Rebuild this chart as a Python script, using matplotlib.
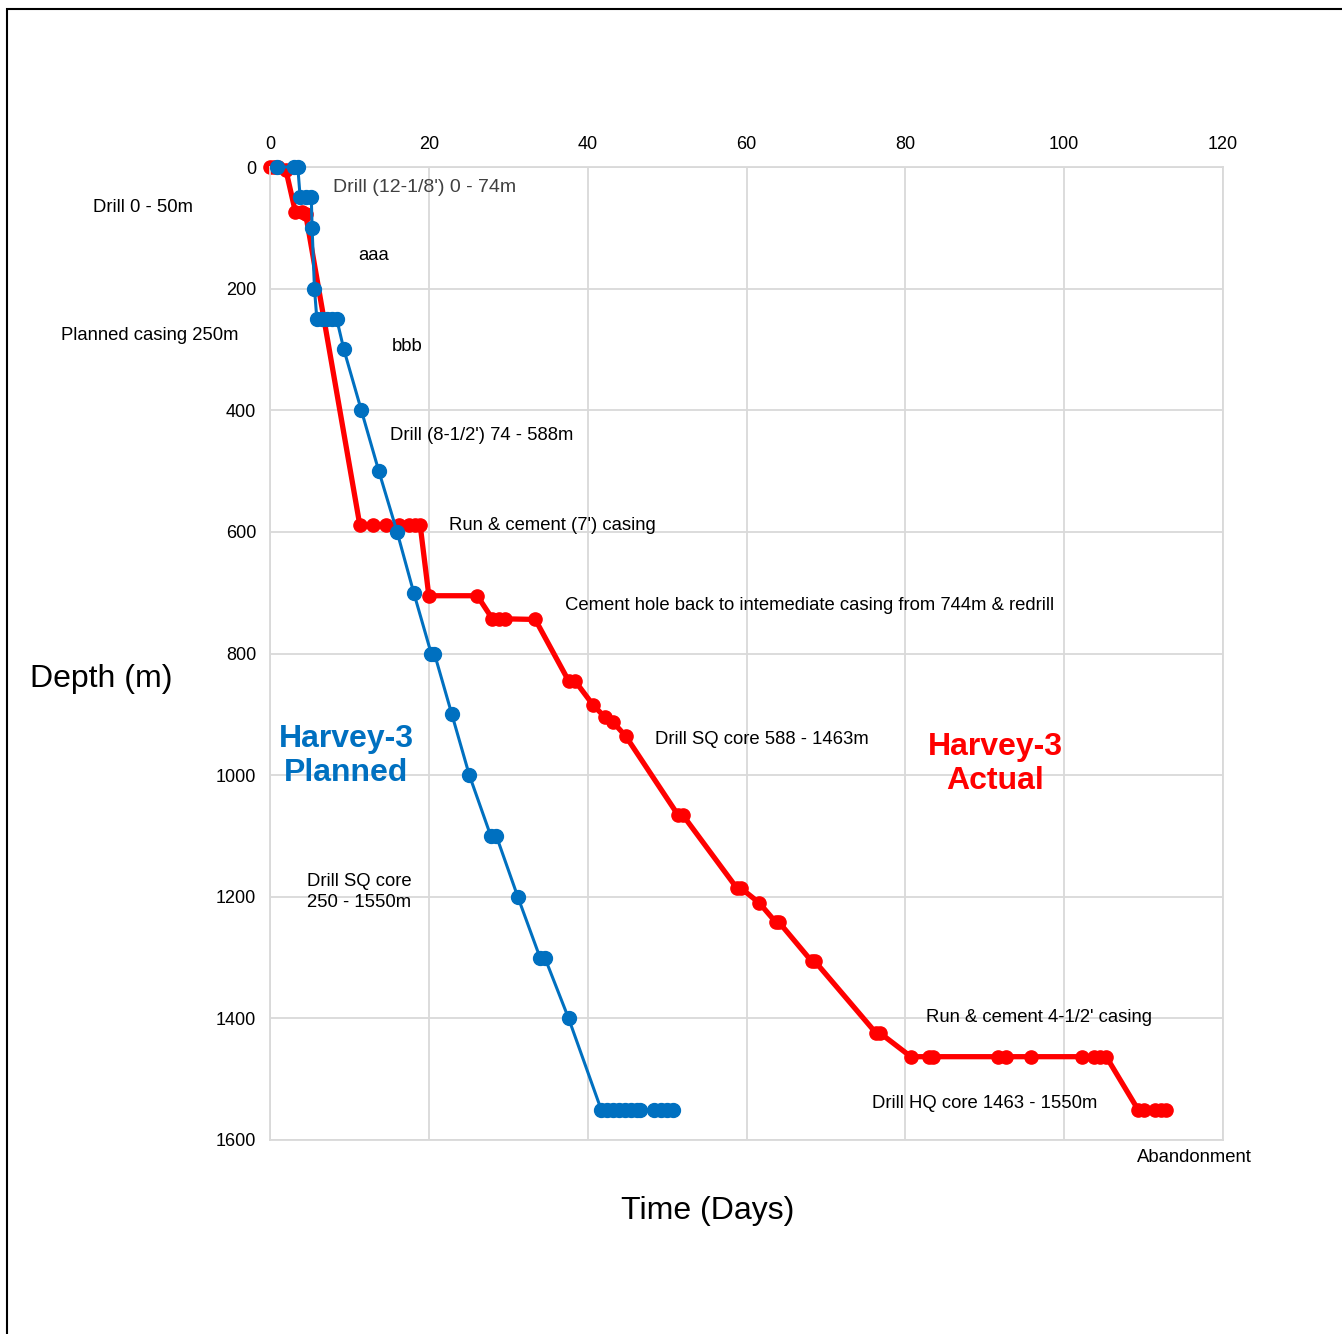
import matplotlib.pyplot as plt
from matplotlib.patches import Rectangle

plt.rcParams['font.family'] = ['Liberation Sans', 'DejaVu Sans']

# planned well (days, depth m)
plan_days = [0.9, 3.0, 3.5, 3.8, 4.5, 5.2, 5.3, 5.6, 5.9, 6.5, 7.2, 7.8, 8.4, 9.3,
             11.5, 13.7, 16.0, 18.1, 20.3, 20.7, 22.9, 25.1, 27.8, 28.5, 31.2,
             34.0, 34.6, 37.6, 41.7, 42.4, 43.2, 43.9, 44.7, 45.4, 46.2, 46.6,
             48.4, 49.2, 50.0, 50.8]
plan_depth = [0, 0, 0, 50, 50, 50, 100, 200, 250, 250, 250, 250, 250, 300,
              400, 500, 600, 700, 800, 800, 900, 1000, 1100, 1100, 1200,
              1300, 1300, 1400, 1550, 1550, 1550, 1550, 1550, 1550, 1550, 1550,
              1550, 1550, 1550, 1550]

# actual well (days, depth m)
act_days = [0.0, 0.5, 1.0, 2.0, 3.2, 4.0, 4.5, 11.3, 13.0, 14.6, 16.3, 17.5, 18.2,
            18.9, 20.0, 26.1, 28.0, 28.8, 29.6, 33.4, 37.6, 38.4, 40.7, 42.2,
            43.2, 44.8, 51.4, 52.0, 58.8, 59.3, 61.6, 63.7, 64.1, 68.2, 68.6,
            76.3, 76.8, 80.7, 83.0, 83.5, 91.7, 92.7, 95.8, 102.2, 103.8, 104.5,
            105.3, 109.3, 110.0, 111.5, 112.2, 112.8]
act_depth = [0, 0, 0, 5, 74, 74, 78, 588, 588, 588, 588, 588, 588,
             588, 705, 705, 743, 743, 743, 744, 845, 845, 885, 905,
             913, 936, 1066, 1066, 1186, 1186, 1210, 1242, 1242, 1306, 1306,
             1424, 1424, 1463, 1463, 1463, 1463, 1463, 1463, 1463, 1463, 1463,
             1463, 1550, 1550, 1550, 1550, 1550]

x_ticks = [0, 20, 40, 60, 80, 100, 120]
y_ticks = [0, 200, 400, 600, 800, 1000, 1200, 1400, 1600]

W, H = 1342, 1334
fig = plt.figure(figsize=(W / 100, H / 100), dpi=100)
ax = fig.add_axes([270 / W, 1 - 1140 / H, 953 / W, 973 / H])

blue = '#0070C0'
red = '#FF0000'
ax.plot(act_days, act_depth, '-o', color=red, lw=3.8, ms=9.5, zorder=2, clip_on=False)
ax.plot(plan_days, plan_depth, '-o', color=blue, lw=2.2, ms=10, zorder=3, clip_on=False)

ax.set_xlim(0, 120)
ax.set_ylim(1600, 0)
ax.set_xticks(x_ticks)
ax.set_yticks(y_ticks)
ax.xaxis.tick_top()
ax.tick_params(length=0, labelsize=13, pad=10)
ax.grid(True, color='#d9d9d9', lw=1.3)
for s in ax.spines.values():
    s.set_color('#d9d9d9')
    s.set_linewidth(1.3)
ax.set_axisbelow(True)


def ftext(px, py, s, **kw):
    fig.text(px / W, 1 - (py + 2) / H, s, va='center', **kw)


fs = 13.3
ftext(143, 205, 'Drill 0 - 50m', ha='center', fontsize=fs)
ftext(333, 185, "Drill (12-1/8') 0 - 74m", ha='left', fontsize=14, color='#404040')
ftext(374, 253, 'aaa', ha='center', fontsize=fs)
ftext(150, 333, 'Planned casing 250m', ha='center', fontsize=fs)
ftext(407, 345, 'bbb', ha='center', fontsize=fs)
ftext(390, 434, "Drill (8-1/2') 74 - 588m", ha='left', fontsize=fs)
ftext(449, 523, "Run & cement (7') casing", ha='left', fontsize=fs)
ftext(565, 603, 'Cement hole back to intemediate casing from 744m & redrill',
      ha='left', fontsize=fs)
ftext(655, 738, 'Drill SQ core 588 - 1463m', ha='left', fontsize=fs)
ftext(307, 890, 'Drill SQ core\n250 - 1550m', ha='left', fontsize=fs, linespacing=1.35)
ftext(926, 1015, "Run & cement 4-1/2' casing", ha='left', fontsize=fs)
ftext(872, 1102, 'Drill HQ core 1463 - 1550m', ha='left', fontsize=fs)
ftext(1137, 1156, 'Abandonment', ha='left', fontsize=fs)

ftext(346, 754, 'Harvey-3\nPlanned', ha='center', fontsize=23, fontweight='bold',
      color=blue, linespacing=1.15)
ftext(995, 762, 'Harvey-3\nActual', ha='center', fontsize=23, fontweight='bold',
      color=red, linespacing=1.15)

ftext(101, 677, 'Depth (m)', ha='center', fontsize=23)
ftext(708, 1209, 'Time (Days)', ha='center', fontsize=23)

# outer frame (partially cropped in the original)
fig.patches.append(Rectangle((7 / W, -0.1), 1.2, 1 - 9 / H + 0.1, transform=fig.transFigure,
                             fill=False, edgecolor='black', lw=1.5))

fig.savefig('out.png', dpi=100)
